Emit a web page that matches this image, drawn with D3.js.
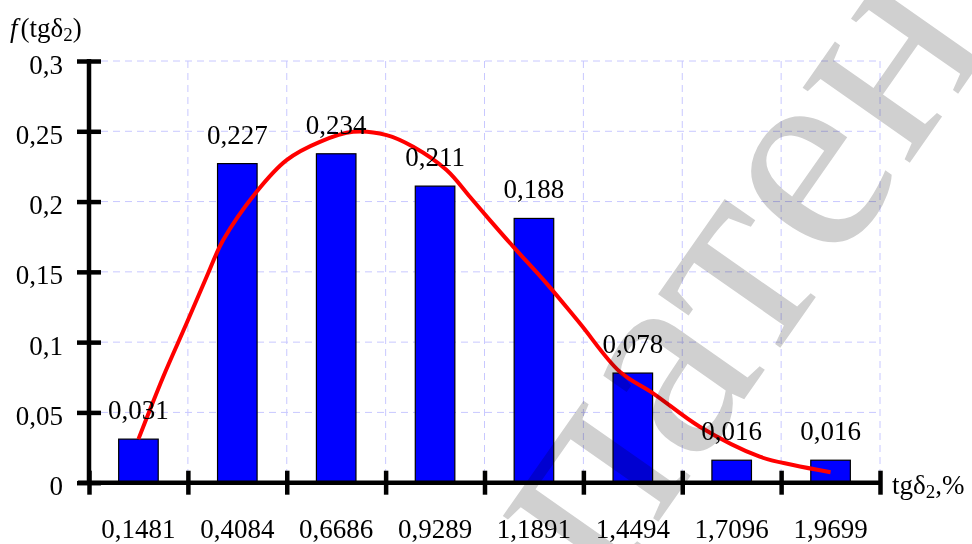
<!DOCTYPE html>
<html>
<head>
<meta charset="utf-8">
<script src="https://cdn.jsdelivr.net/npm/d3@7"></script>
<style>
  html, body { margin: 0; padding: 0; background: #fff; }
  svg { display: block; }
  text { font-family: "Liberation Serif", "Times New Roman", serif; }
</style>
</head>
<body>
<svg id="chart" width="972" height="544"></svg>
<script>
// Interval midpoints of tgδ2, %
const categories = ["0,1481", "0,4084", "0,6686", "0,9289", "1,1891", "1,4494", "1,7096", "1,9699"];
const midpoints = [0.1481, 0.4084, 0.6686, 0.9289, 1.1891, 1.4494, 1.7096, 1.9699];
// Relative frequencies of each interval
const frequencies = [0.031, 0.227, 0.234, 0.211, 0.188, 0.078, 0.016, 0.016];
const frequencyLabels = ["0,031", "0,227", "0,234", "0,211", "0,188", "0,078", "0,016", "0,016"];
// Fitted density curve f(tgδ2)
const curveX = [0.1481, 0.2134, 0.2749, 0.3276, 0.3712, 0.4591, 0.538, 0.6257, 0.7134, 0.8013, 0.8713,
                0.9591, 1.0205, 1.0731, 1.1345, 1.2222, 1.3099, 1.4152, 1.5028, 1.6256, 1.7835, 1.8712, 1.9699];
const curveY = [0.031, 0.0754, 0.1134, 0.1465, 0.1726, 0.207, 0.2295, 0.2425, 0.2496, 0.2473, 0.239,
                0.2224, 0.2034, 0.1868, 0.1679, 0.1418, 0.1134, 0.0789, 0.0636, 0.0398, 0.0185, 0.0126, 0.0075];
const yTicks = [0, 0.05, 0.1, 0.15, 0.2, 0.25, 0.3];
const yTickLabels = ["0", "0,05", "0,1", "0,15", "0,2", "0,25", "0,3"];
const watermarkText = "патент";

const svg = d3.select("#chart");
const W = 972, H = 544;
const plotLeft = 89, plotRight = 880, plotTop = 61, plotBottom = 482.7;
const fs = 27;

svg.append("rect").attr("width", W).attr("height", H).attr("fill", "#fff");

const x = d3.scaleBand().domain(categories).range([plotLeft, plotRight]).padding(0);
const bw = x.bandwidth();
const xEdge = d3.scaleLinear().domain([0, categories.length]).range([plotLeft, plotRight]);
const xVal = d3.scaleLinear()
  .domain([midpoints[0], midpoints[midpoints.length - 1]])
  .range([x(categories[0]) + bw / 2, x(categories[categories.length - 1]) + bw / 2]);
const y = d3.scaleLinear().domain([0, 0.3]).range([plotBottom, plotTop]);

// Dashed grid
const grid = svg.append("g").attr("stroke", "#c8c8ff").attr("stroke-width", 1).attr("stroke-dasharray", "7,5");
grid.selectAll("line.h").data(yTicks.slice(1)).join("line").attr("class", "h")
  .attr("x1", plotLeft).attr("x2", plotRight).attr("y1", d => y(d)).attr("y2", d => y(d));
grid.selectAll("line.v").data(d3.range(1, categories.length + 1)).join("line").attr("class", "v")
  .attr("x1", d => xEdge(d)).attr("x2", d => xEdge(d)).attr("y1", plotTop).attr("y2", plotBottom);

// Bars
const barW = bw * 0.4;
svg.append("g").selectAll("rect").data(frequencies).join("rect")
  .attr("x", (d, i) => x(categories[i]) + (bw - barW) / 2)
  .attr("y", d => y(d))
  .attr("width", barW)
  .attr("height", d => y(0) - y(d))
  .attr("fill", "#0000ff")
  .attr("stroke", "#000")
  .attr("stroke-width", 1.2);

// Density curve
const pts = curveX.map((v, i) => [xVal(v), y(curveY[i])]);
svg.append("path")
  .attr("d", d3.line().curve(d3.curveCatmullRom.alpha(0.5))(pts))
  .attr("fill", "none")
  .attr("stroke", "#ff0000")
  .attr("stroke-width", 4)
  .attr("stroke-linecap", "butt");

// Value labels
svg.append("g").selectAll("text").data(frequencies).join("text")
  .attr("x", (d, i) => x(categories[i]) + bw / 2)
  .attr("y", d => y(d) - 20)
  .attr("text-anchor", "middle")
  .attr("font-size", fs)
  .attr("fill", "#000")
  .text((d, i) => frequencyLabels[i]);

// Y axis
const yAxis = svg.append("g").attr("transform", `translate(${plotLeft},0)`)
  .call(d3.axisLeft(y).tickValues(yTicks).tickFormat((d, i) => yTickLabels[i]).tickSizeOuter(0).tickSize(12));
yAxis.select(".domain").attr("stroke", "#000").attr("stroke-width", 4.5)
  .attr("d", `M0,${plotTop - 2}V${plotBottom}`);
yAxis.selectAll(".tick line").attr("x1", -12).attr("x2", 12).attr("stroke", "#000").attr("stroke-width", 4.5);
yAxis.selectAll(".tick text").attr("x", -26).attr("dy", 12).attr("font-size", fs)
  .attr("font-family", "Liberation Serif, Times New Roman, serif").attr("fill", "#000");

// X axis: ticks on interval edges, labels at midpoints
const xAxis = svg.append("g").attr("transform", `translate(0,${plotBottom})`)
  .call(d3.axisBottom(xEdge).tickValues(d3.range(0, categories.length + 1)).tickFormat("").tickSizeOuter(0).tickSize(12));
xAxis.select(".domain").attr("stroke", "#000").attr("stroke-width", 4.5)
  .attr("d", `M${plotLeft - 11},0H${plotRight}`);
xAxis.selectAll(".tick line").attr("y1", -12).attr("y2", 12).attr("stroke", "#000").attr("stroke-width", 4.5);

const xLabels = svg.append("g").attr("transform", `translate(0,${plotBottom})`)
  .call(d3.axisBottom(x).tickSize(0));
xLabels.select(".domain").remove();
xLabels.selectAll(".tick text").attr("y", 55).attr("dy", 0).attr("font-size", fs)
  .attr("font-family", "Liberation Serif, Times New Roman, serif").attr("fill", "#000");

// Axis titles
const yTitle = svg.append("text").attr("x", 10).attr("y", 37).attr("font-size", fs).attr("fill", "#000");
yTitle.append("tspan").attr("font-style", "italic").text("f");
yTitle.append("tspan").attr("dx", 3).text("(tgδ");
yTitle.append("tspan").attr("font-size", 19).attr("dy", 4).text("2");
yTitle.append("tspan").attr("dy", -4).text(")");

const xTitle = svg.append("text").attr("x", 892).attr("y", 494).attr("font-size", fs).attr("fill", "#000");
xTitle.append("tspan").text("tgδ");
xTitle.append("tspan").attr("font-size", 19).attr("dy", 4).text("2");
xTitle.append("tspan").attr("dy", -4).text(",%");

// Watermark, blended over the chart
const wmSize = 285;
const wm = svg.append("g").style("mix-blend-mode", "multiply");
const wmText = wm.append("text")
  .attr("font-size", wmSize)
  .attr("font-family", "Liberation Serif, Times New Roman, serif")
  .attr("fill", "#d0d0d0")
  .text(watermarkText);
const ext = wmText.node().getExtentOfChar(3);
const ecx = ext.x + ext.width / 2;
wmText.attr("transform", `translate(818,182) rotate(-55) translate(${-ecx},${0.225 * wmSize})`);
</script>
</body>
</html>
